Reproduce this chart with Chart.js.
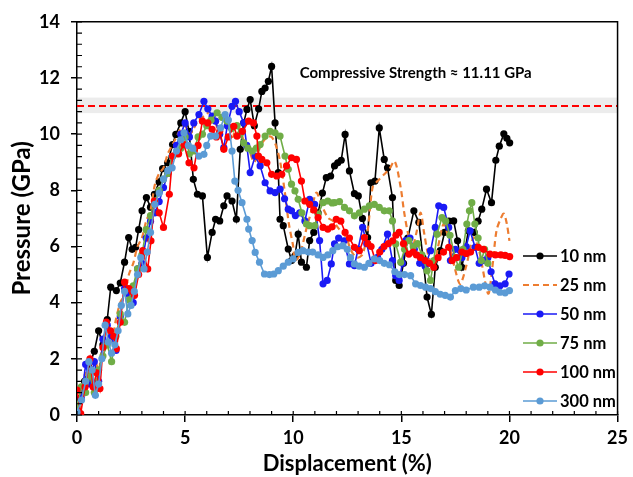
<!DOCTYPE html>
<html>
<head>
<meta charset="utf-8">
<script src="https://cdn.jsdelivr.net/npm/chart.js@4"></script>
<style>
html,body{margin:0;padding:0;background:#fff;}
#c{display:block;}
</style>
</head>
<body>
<canvas id="c" width="633" height="477"></canvas>
<script>
// ---------- DATA ----------
const seriesNames = ['10 nm', '25 nm', '50 nm', '75 nm', '100 nm', '300 nm'];
const xTicks = [0, 5, 10, 15, 20, 25];
const yTicks = [0, 2, 4, 6, 8, 10, 12, 14];
const strengthValue = 11.0;
const strengthLabel = 'Compressive Strength \u2248 11.11 GPa';

const nm10X = [0,0.15,0.35,0.55,0.8,1.0,1.2,1.4,1.56,1.82,2.0,2.2,2.39,2.55,2.71,2.85,3.01,3.21,3.4,3.58,3.8,3.96,4.19,4.42,4.57,4.8,5.0,5.18,5.38,5.57,5.8,6.03,6.25,6.41,6.6,6.79,6.94,7.17,7.37,7.55,7.71,7.86,8.01,8.2,8.4,8.55,8.7,8.85,9.0,9.16,9.31,9.39,9.54,9.77,9.92,10.08,10.23,10.38,10.61,10.76,10.95,11.15,11.35,11.53,11.73,11.91,12.06,12.22,12.4,12.6,12.83,13.01,13.2,13.44,13.59,13.78,13.98,14.21,14.36,14.59,14.74,14.9,15.1,15.3,15.58,15.81,16.0,16.19,16.39,16.57,16.8,17.0,17.2,17.42,17.6,17.8,18.1,18.37,18.55,18.72,18.94,19.17,19.37,19.53,19.74,19.88,20.01];
const nm10Y = [0,0.6,1.2,1.7,2.27,3.0,2.5,3.4,4.55,4.43,4.7,5.44,6.32,5.9,5.97,6.6,7.27,7.74,7.4,7.86,8.3,8.77,8.98,9.63,9.99,10.4,10.8,10.1,8.39,7.86,7.8,5.61,6.5,6.97,6.91,7.45,7.8,7.62,6.97,9.46,10.4,10.88,11.23,10.3,10.9,11.52,11.64,11.88,12.41,10.4,8.63,6.97,6.74,5.91,5.5,5.67,6.44,5.44,5.26,6.21,6.5,7.2,7.9,8.45,8.51,8.87,8.98,9.07,9.99,8.69,7.88,7.8,7.0,6.32,8.27,8.33,10.22,9.1,8.8,7.74,4.79,4.61,5.4,6.3,7.27,6.86,5.6,4.2,3.58,5.26,5.85,6.5,6.9,6.91,6.2,5.26,6.56,6.5,6.9,7.33,8.04,7.56,9.07,9.57,10.01,9.85,9.69];

const nm25X = [0,0.2,0.4,0.6,0.8,1.0,1.2,1.4,1.6,1.8,2.0,2.2,2.4,2.6,2.8,3.0,3.2,3.4,3.6,3.8,4.0,4.2,4.4,4.6,4.8,5.0,5.2,5.4,5.6,5.8,6.0,6.18,6.4,6.6,6.8,7.0,7.2,7.4,7.6,7.8,8.0,8.2,8.5,8.8,9.0,9.2,9.4,9.6,9.8,10.0,10.08,10.3,10.6,10.84,11.07,11.3,11.6,11.85,12.06,12.45,12.68,12.95,13.21,13.45,13.67,13.9,14.21,14.44,14.69,14.97,15.12,15.3,15.5,15.7,15.89,16.05,16.27,16.5,16.7,16.96,17.2,17.45,17.72,18.0,18.33,18.55,18.72,19.02,19.2,19.4,19.6,19.74,19.88,20.0];
const nm25Y = [0,0.8,1.5,1.2,2.0,1.6,2.6,3.0,2.6,3.4,4.0,4.3,5.0,5.4,6.0,6.3,6.9,7.3,8.2,8.6,8.8,9.3,9.6,9.9,10.2,10.3,10.0,10.2,10.5,10.6,10.7,10.88,10.4,10.1,10.5,10.3,9.9,10.4,10.0,9.6,9.34,9.0,9.6,9.9,9.9,9.6,9.0,8.0,6.8,6.0,5.5,5.7,6.6,7.27,7.92,7.5,7.03,6.9,6.68,6.32,5.85,5.6,5.73,6.6,8.1,8.33,8.57,8.75,9.04,8.1,7.27,6.5,5.97,6.5,7.21,6.5,5.61,5.3,6.0,6.8,6.2,5.3,4.67,5.3,6.32,6.0,5.38,4.32,5.2,6.56,7.0,7.17,6.8,6.2];

const nm50X = [0,0.2,0.4,0.6,0.8,1.0,1.2,1.4,1.6,1.8,2.0,2.2,2.4,2.6,2.8,3.0,3.2,3.4,3.6,3.8,4.0,4.2,4.4,4.6,4.8,5.0,5.2,5.4,5.64,5.87,6.05,6.25,6.41,6.6,6.79,6.95,7.17,7.33,7.5,7.71,7.85,8.01,8.24,8.47,8.7,8.93,9.16,9.39,9.6,9.77,9.92,10.1,10.3,10.54,10.76,10.99,11.22,11.38,11.57,11.76,11.91,12.1,12.35,12.6,12.83,13.0,13.21,13.4,13.6,13.9,14.1,14.36,14.59,14.74,14.9,15.05,15.2,15.4,15.6,15.85,16.1,16.35,16.57,16.73,16.96,17.19,17.27,17.5,17.8,18.0,18.18,18.41,18.6,18.79,19.0,19.15,19.33,19.56,19.8,19.98];
const nm50Y = [0.05,0.6,1.8,1.1,1.9,1.2,2.7,3.2,2.8,2.3,3.5,4.5,4.3,4.0,5.2,5.4,6.3,6.9,7.2,7.6,8.1,8.6,9.2,9.6,10.0,10.4,9.9,10.4,10.7,11.17,10.9,10.64,10.46,10.0,9.52,10.3,10.99,11.17,10.8,10.4,9.6,8.63,9.22,8.87,8.27,7.98,7.92,8.04,7.7,7.33,7.27,7.1,7.2,6.91,7.68,7.5,6.21,4.67,4.79,5.38,6.09,6.3,6.2,5.38,5.32,5.9,6.68,6.1,5.4,5.61,5.9,6.44,5.5,4.96,4.79,5.4,6.21,6.3,5.9,5.4,5.3,5.85,6.68,7.45,7.39,6.68,5.5,5.9,5.6,6.0,6.56,5.97,5.4,5.5,5.6,5.1,4.67,4.6,4.67,5.02];

const nm75X = [0,0.2,0.4,0.6,0.8,1.0,1.2,1.4,1.6,1.8,2.0,2.2,2.4,2.6,2.8,3.0,3.2,3.4,3.6,3.8,4.0,4.2,4.4,4.6,4.8,5.0,5.2,5.4,5.6,5.8,6.0,6.2,6.48,6.7,6.94,7.15,7.4,7.55,7.71,7.9,8.1,8.3,8.47,8.7,8.93,9.16,9.39,9.62,9.77,9.92,10.08,10.23,10.4,10.61,10.76,10.99,11.15,11.38,11.6,11.8,11.91,12.14,12.37,12.6,12.83,13.06,13.29,13.52,13.75,13.98,14.21,14.44,14.59,14.74,14.97,15.15,15.35,15.55,15.75,15.95,16.19,16.35,16.5,16.65,16.88,17.05,17.25,17.49,17.65,17.85,18.03,18.15,18.26,18.4,18.55,18.7,18.85,19.0];
const nm75Y = [0.3,1.0,0.8,1.4,0.8,1.6,2.1,2.5,1.9,2.8,3.6,3.3,4.1,4.6,5.2,5.7,6.6,7.1,7.6,8.0,8.4,8.6,9.2,9.3,9.5,9.9,9.3,9.4,9.9,10.0,10.3,10.5,10.76,10.6,10.46,10.2,10.3,10.0,9.69,9.5,9.4,9.5,9.63,9.93,10.1,10.05,9.93,9.22,8.75,8.22,7.98,7.68,7.2,6.8,6.74,6.74,7.15,7.56,7.62,7.55,7.56,7.6,7.39,7.27,7.09,7.2,7.33,7.45,7.5,7.39,7.27,7.27,6.91,6.09,5.44,5.9,6.21,6.0,6.1,5.7,5.14,4.79,5.5,6.44,7.03,6.9,6.4,5.61,5.26,5.9,6.8,7.27,7.56,6.8,6.3,5.5,5.9,5.4];

const nm100X = [0,0.17,0.37,0.6,0.75,0.9,1.06,1.2,1.36,1.55,1.7,1.82,2.0,2.2,2.4,2.55,2.66,2.85,3.04,3.27,3.42,3.58,3.8,4.0,4.27,4.42,4.7,4.95,5.18,5.41,5.6,5.8,6.05,6.25,6.45,6.6,6.79,7.0,7.25,7.4,7.65,7.94,8.16,8.32,8.39,8.55,8.78,9.0,9.24,9.47,9.69,9.92,10.15,10.38,10.54,10.76,10.95,11.15,11.38,11.6,11.8,11.99,12.2,12.4,12.6,12.83,13.06,13.29,13.45,13.6,13.8,14.0,14.2,14.4,14.6,14.75,14.9,15.1,15.35,15.55,15.7,15.89,16.1,16.3,16.5,16.7,16.95,17.19,17.35,17.55,17.8,18.0,18.2,18.56,18.8,19.1,19.35,19.6,19.8,20.01];
const nm100Y = [0.89,0.05,1.0,2.0,1.0,1.5,0.94,2.4,3.31,3.0,2.8,2.36,3.3,4.73,4.5,4.4,4.26,5.0,5.85,5.2,6.2,7.62,7.2,6.68,7.86,9.22,9.3,9.63,8.98,8.8,9.6,10.46,10.4,10.17,9.9,10.1,9.46,9.9,10.28,9.93,10.1,10.46,10.4,9.93,9.22,9.1,8.98,8.57,8.51,8.57,8.87,9.16,9.1,8.33,7.62,7.5,7.3,7.03,6.68,6.62,6.7,6.97,6.9,6.5,6.3,5.97,5.85,6.32,6.1,6.0,5.5,5.8,6.0,6.1,6.2,6.4,6.5,6.1,5.73,5.8,5.7,5.6,5.5,5.4,5.26,5.6,5.8,5.97,5.5,5.6,5.8,5.75,5.8,5.97,5.9,5.73,5.7,5.7,5.68,5.64];

const nm300X = [0,0.21,0.4,0.55,0.7,0.85,1.0,1.15,1.3,1.45,1.6,1.75,1.9,2.05,2.2,2.35,2.5,2.65,2.8,2.95,3.1,3.25,3.4,3.6,3.8,4.0,4.2,4.4,4.6,4.8,4.95,5.15,5.35,5.64,5.87,6.0,6.18,6.41,6.64,6.85,7.0,7.17,7.3,7.45,7.63,7.86,7.94,8.1,8.24,8.44,8.67,8.9,9.1,9.31,9.54,9.77,10.0,10.23,10.45,10.7,10.9,11.15,11.38,11.6,11.83,12.06,12.3,12.5,12.65,12.83,13.05,13.29,13.5,13.75,14.0,14.21,14.45,14.7,14.9,15.15,15.43,15.66,15.89,16.12,16.35,16.57,16.8,17.03,17.27,17.5,17.75,18.0,18.33,18.6,18.85,19.1,19.35,19.56,19.8,20.0];
const nm300Y = [0.1,0.53,1.2,1.9,1.6,0.7,1.1,2.0,3.2,2.6,2.2,2.5,3.0,3.9,4.4,3.6,3.9,4.4,5.0,5.6,5.2,5.8,6.5,7.5,7.9,8.4,8.7,8.8,9.4,9.8,10.05,9.6,9.5,9.22,9.28,9.6,9.93,9.93,10.22,10.7,10.5,9.4,8.33,8.0,7.56,6.97,6.62,6.21,5.79,5.44,5.02,5.0,5.02,5.14,5.3,5.44,5.56,5.79,5.85,5.8,5.8,5.7,5.61,5.7,5.85,5.99,6.03,5.9,5.6,5.38,5.3,5.26,5.4,5.56,5.5,5.4,5.35,5.1,5.0,5.0,4.96,4.67,4.61,4.55,4.5,4.39,4.3,4.26,4.2,4.43,4.5,4.45,4.55,4.55,4.6,4.55,4.45,4.37,4.35,4.43];

const seriesColors = ['#000000', '#ED7D31', '#1A1AF5', '#70AD47', '#FF0000', '#5B9BD5'];

// ---------- BUILD ----------
function pts(xs, ys) { return xs.map((x, i) => ({ x: x, y: ys[i] })); }
const allX = [nm10X, nm25X, nm50X, nm75X, nm100X, nm300X];
const allY = [nm10Y, nm25Y, nm50Y, nm75Y, nm100Y, nm300Y];

const datasets = seriesNames.map((name, i) => {
  const dashed = (i === 1);
  return {
    label: name,
    data: pts(allX[i], allY[i]),
    borderColor: seriesColors[i],
    backgroundColor: seriesColors[i],
    borderWidth: dashed ? 2.2 : 1.6,
    borderDash: dashed ? [6, 4] : [],
    pointRadius: dashed ? 0 : 3.6,
    pointBorderWidth: 0,
    pointHoverRadius: 0,
    tension: dashed ? 0.3 : 0,
    order: 5 - i
  };
});

const FONT = 'Lato, "Open Sans", "DejaVu Sans", sans-serif';

const decor = {
  id: 'decor',
  beforeDatasetsDraw(chart) {
    const { ctx, chartArea: a, scales: { y } } = chart;
    const yp = y.getPixelForValue(strengthValue);
    ctx.save();
    ctx.fillStyle = 'rgba(200,200,200,0.35)';
    const top = y.getPixelForValue(strengthValue + 0.3);
    const bot = y.getPixelForValue(strengthValue - 0.25);
    ctx.fillRect(a.left, top, a.right - a.left, bot - top);
    ctx.strokeStyle = '#FF0000';
    ctx.lineWidth = 2;
    ctx.setLineDash([7, 4]);
    ctx.beginPath();
    ctx.moveTo(a.left, yp);
    ctx.lineTo(a.right, yp);
    ctx.stroke();
    ctx.setLineDash([]);
    ctx.fillStyle = '#000';
    ctx.font = 'bold 15px ' + FONT;
    ctx.textAlign = 'left';
    ctx.textBaseline = 'middle';
    ctx.fillText(strengthLabel, chart.scales.x.getPixelForValue(10.3), y.getPixelForValue(strengthValue + 1.17));
    ctx.restore();
  },
  afterDraw(chart) {
    const { ctx, chartArea: a, scales: { x, y } } = chart;
    ctx.save();
    ctx.strokeStyle = '#000';
    ctx.lineWidth = 1.5;
    ctx.beginPath();
    ctx.moveTo(a.left, a.top);
    ctx.lineTo(a.right, a.top);
    ctx.lineTo(a.right, a.bottom);
    ctx.stroke();
    // minor / inner ticks
    ctx.lineWidth = 1.2;
    ctx.beginPath();
    for (let v = 0; v <= 14.001; v += 0.4) {
      const p = y.getPixelForValue(v);
      ctx.moveTo(a.left, p);
      ctx.lineTo(a.left + 5, p);
    }
    for (let v = 0; v <= 25.001; v += 1) {
      const p = x.getPixelForValue(v);
      ctx.moveTo(p, a.bottom);
      ctx.lineTo(p, a.bottom - 4);
    }
    ctx.stroke();
    // legend
    const lx0 = 523, lx1 = 557, tx = 560;
    const rows = [256, 285, 314, 343, 372, 401];
    chart.data.datasets.forEach((ds, i) => {
      const yy = rows[i];
      ctx.strokeStyle = ds.borderColor;
      ctx.lineWidth = ds.borderWidth;
      ctx.setLineDash(ds.borderDash);
      ctx.beginPath();
      ctx.moveTo(lx0, yy);
      ctx.lineTo(lx1, yy);
      ctx.stroke();
      ctx.setLineDash([]);
      if (ds.pointRadius > 0) {
        ctx.fillStyle = ds.backgroundColor;
        ctx.beginPath();
        ctx.arc((lx0 + lx1) / 2, yy, ds.pointRadius, 0, Math.PI * 2);
        ctx.fill();
      }
      ctx.fillStyle = '#000';
      ctx.font = 'bold 16.5px ' + FONT;
      ctx.textAlign = 'left';
      ctx.textBaseline = 'middle';
      ctx.fillText(ds.label, tx, yy + 1);
    });
    ctx.restore();
  }
};

new Chart(document.getElementById('c'), {
  type: 'line',
  data: { datasets: datasets },
  options: {
    responsive: false,
    animation: false,
    devicePixelRatio: 1,
    layout: { padding: { left: 0, right: 11, top: 20, bottom: 0 } },
    plugins: { legend: { display: false }, tooltip: { enabled: false } },
    scales: {
      x: {
        type: 'linear',
        min: 0, max: 25,
        afterBuildTicks(s) { s.ticks = xTicks.map(v => ({ value: v })); },
        afterFit(s) { s.height = 62; },
        grid: { display: true, drawOnChartArea: false, drawTicks: true, tickLength: 7, color: '#000', lineWidth: 1.5 },
        border: { display: true, color: '#000', width: 1.5 },
        ticks: { color: '#000', padding: 5, font: { family: FONT, size: 18, weight: 'bold' }, maxRotation: 0 },
        title: { display: true, text: 'Displacement (%)', color: '#000', padding: { top: 0, bottom: 0 }, font: { family: FONT, size: 22, weight: 'bold' } }
      },
      y: {
        type: 'linear',
        min: 0, max: 14,
        afterBuildTicks(s) { s.ticks = yTicks.map(v => ({ value: v })); },
        afterFit(s) { s.width = 77; },
        grid: { display: true, drawOnChartArea: false, drawTicks: true, tickLength: 6, color: '#000', lineWidth: 1.5 },
        border: { display: true, color: '#000', width: 1.5 },
        ticks: { color: '#000', padding: 11, font: { family: FONT, size: 18, weight: 'bold' } },
        title: { display: true, text: 'Pressure (GPa)', color: '#000', padding: { top: 8, bottom: 0 }, font: { family: FONT, size: 24, weight: 'bold' } }
      }
    }
  },
  plugins: [decor]
});
</script>
</body>
</html>
